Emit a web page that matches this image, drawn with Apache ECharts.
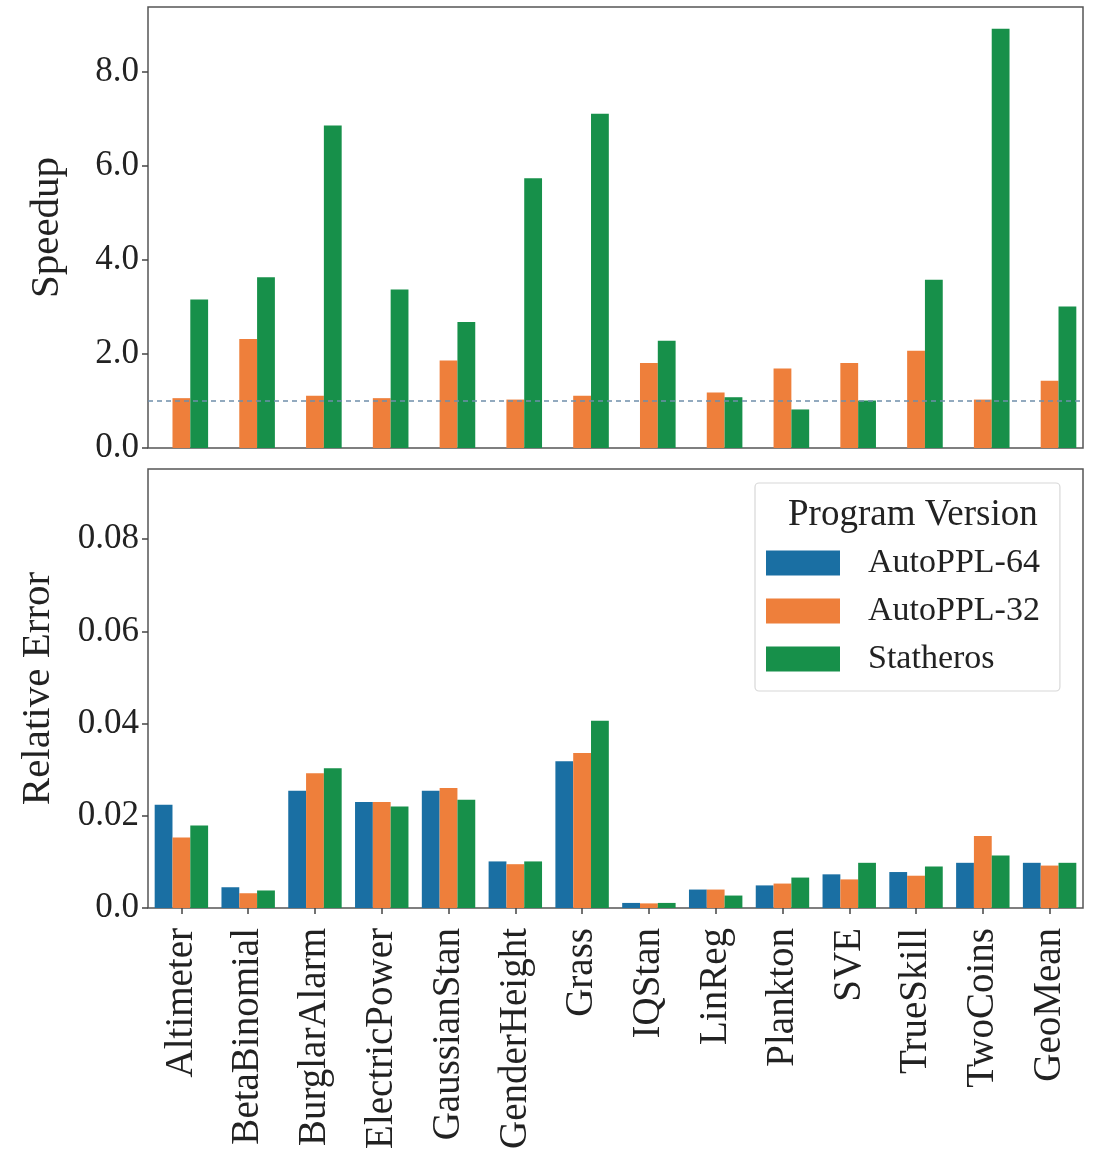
<!DOCTYPE html>
<html>
<head>
<meta charset="utf-8">
<script src="https://cdn.jsdelivr.net/npm/echarts@6/dist/echarts.min.js"></script>
<style>
  html, body { margin: 0; padding: 0; background: #ffffff; }
  #chart { width: 1096px; height: 1157px; }
</style>
</head>
<body>
<div id="chart"></div>
<script>
const categories = ['Altimeter', 'BetaBinomial', 'BurglarAlarm', 'ElectricPower', 'GaussianStan', 'GenderHeight', 'Grass', 'IQStan', 'LinReg', 'Plankton', 'SVE', 'TrueSkill', 'TwoCoins', 'GeoMean'];
const seriesNames = ['AutoPPL-64', 'AutoPPL-32', 'Statheros'];

// Speedup panel (AutoPPL-64 is the baseline, not drawn)
const speedup64 = [null, null, null, null, null, null, null, null, null, null, null, null, null, null];
const speedup32 = [1.06, 2.32, 1.11, 1.06, 1.86, 1.03, 1.11, 1.81, 1.18, 1.69, 1.81, 2.07, 1.03, 1.43];
const speedupStatheros = [3.16, 3.63, 6.86, 3.37, 2.68, 5.74, 7.11, 2.28, 1.08, 0.82, 1.01, 3.58, 8.92, 3.01];
const baselineSpeedup = 1.0;

// Relative error panel
const error64 = [0.0224, 0.0045, 0.0254, 0.0230, 0.0254, 0.0101, 0.0318, 0.0011, 0.0040, 0.0049, 0.0073, 0.0078, 0.0098, 0.0098];
const error32 = [0.0153, 0.0032, 0.0292, 0.0230, 0.0260, 0.0095, 0.0336, 0.0010, 0.0040, 0.0053, 0.0062, 0.0070, 0.0156, 0.0092];
const errorStatheros = [0.0179, 0.0038, 0.0303, 0.0220, 0.0235, 0.0101, 0.0406, 0.0011, 0.0027, 0.0066, 0.0098, 0.0090, 0.0114, 0.0098];

// Tick labels
const speedupTicks = [0, 2, 4, 6, 8];
const speedupTickLabels = ['0.0', '2.0', '4.0', '6.0', '8.0'];
const errorTicks = [0, 0.02, 0.04, 0.06, 0.08];
const errorTickLabels = ['0.0', '0.02', '0.04', '0.06', '0.08'];

const colors = ['#1A6FA3', '#EE7F3B', '#17904A'];
const FONT = 'Liberation Serif';

function labelFor(ticks, labels) {
  return function (v) {
    for (let i = 0; i < ticks.length; i++) {
      if (Math.abs(ticks[i] - v) < 1e-9) return labels[i];
    }
    return '';
  };
}

const chart = echarts.init(document.getElementById('chart'), null, { renderer: 'canvas' });

const axisLabelY = { fontFamily: FONT, fontSize: 35, color: '#222', margin: 9 };
const yTick = { show: true, length: 6, lineStyle: { color: '#444', width: 1.5 } };

const option = {
  animation: false,
  backgroundColor: '#ffffff',
  color: colors,
  grid: [
    { left: 148, right: 13, top: 7, height: 441, show: true, borderColor: '#555', borderWidth: 1.5, backgroundColor: 'transparent', containLabel: false },
    { left: 148, right: 13, top: 469, height: 439, show: true, borderColor: '#555', borderWidth: 1.5, backgroundColor: 'transparent', containLabel: false }
  ],
  xAxis: [
    {
      type: 'category', gridIndex: 0, data: categories,
      axisLine: { show: false }, axisTick: { show: false }, axisLabel: { show: false }
    },
    {
      type: 'category', gridIndex: 1, data: categories,
      axisLine: { show: false },
      axisTick: { show: true, alignWithLabel: true, length: 6, lineStyle: { color: '#444', width: 1.5 } },
      axisLabel: { rotate: 90, fontFamily: FONT, fontSize: 39, color: '#222', margin: 20, interval: 0 }
    }
  ],
  yAxis: [
    {
      type: 'value', gridIndex: 0, min: 0, max: 9.38,
      name: 'Speedup', nameLocation: 'middle', nameGap: 80,
      nameTextStyle: { fontFamily: FONT, fontSize: 41, color: '#222' },
      axisLine: { show: false }, splitLine: { show: false },
      axisTick: Object.assign({ customValues: speedupTicks }, yTick),
      axisLabel: Object.assign({ customValues: speedupTicks, formatter: labelFor(speedupTicks, speedupTickLabels) }, axisLabelY)
    },
    {
      type: 'value', gridIndex: 1, min: 0, max: 0.0952,
      name: 'Relative Error', nameLocation: 'middle', nameGap: 89,
      nameTextStyle: { fontFamily: FONT, fontSize: 41, color: '#222' },
      axisLine: { show: false }, splitLine: { show: false },
      axisTick: Object.assign({ customValues: errorTicks }, yTick),
      axisLabel: Object.assign({ customValues: errorTicks, formatter: labelFor(errorTicks, errorTickLabels) }, axisLabelY)
    }
  ],
  legend: {
    data: seriesNames,
    orient: 'vertical',
    left: 755, top: 483,
    padding: [63, 20, 15, 11],
    itemWidth: 74, itemHeight: 25, itemGap: 14,
    icon: 'rect',
    backgroundColor: '#ffffff',
    borderColor: '#d8d8d8', borderWidth: 1.2, borderRadius: 4,
    textStyle: { fontFamily: FONT, fontSize: 34, color: '#222', padding: [0, 0, 0, 23] },
    selectedMode: false
  },
  graphic: [
    {
      type: 'text', left: 788, top: 497, z: 100,
      style: { text: 'Program Version', fontFamily: FONT, fontSize: 37, fill: '#222' }
    }
  ],
  series: [
    { name: seriesNames[0], type: 'bar', xAxisIndex: 0, yAxisIndex: 0, data: speedup64, barGap: '0%', barCategoryGap: '20%' },
    {
      name: seriesNames[1], type: 'bar', xAxisIndex: 0, yAxisIndex: 0, data: speedup32, barGap: '0%', barCategoryGap: '20%',
      markLine: {
        silent: true, symbol: 'none', z: 10,
        label: { show: false },
        lineStyle: { color: '#6F8FAA', width: 1.6, type: [5, 4] },
        data: [{ yAxis: baselineSpeedup }]
      }
    },
    { name: seriesNames[2], type: 'bar', xAxisIndex: 0, yAxisIndex: 0, data: speedupStatheros, barGap: '0%', barCategoryGap: '20%' },
    { name: seriesNames[0], type: 'bar', xAxisIndex: 1, yAxisIndex: 1, data: error64, barGap: '0%', barCategoryGap: '20%' },
    { name: seriesNames[1], type: 'bar', xAxisIndex: 1, yAxisIndex: 1, data: error32, barGap: '0%', barCategoryGap: '20%' },
    { name: seriesNames[2], type: 'bar', xAxisIndex: 1, yAxisIndex: 1, data: errorStatheros, barGap: '0%', barCategoryGap: '20%' }
  ]
};

chart.setOption(option);
</script>
</body>
</html>
